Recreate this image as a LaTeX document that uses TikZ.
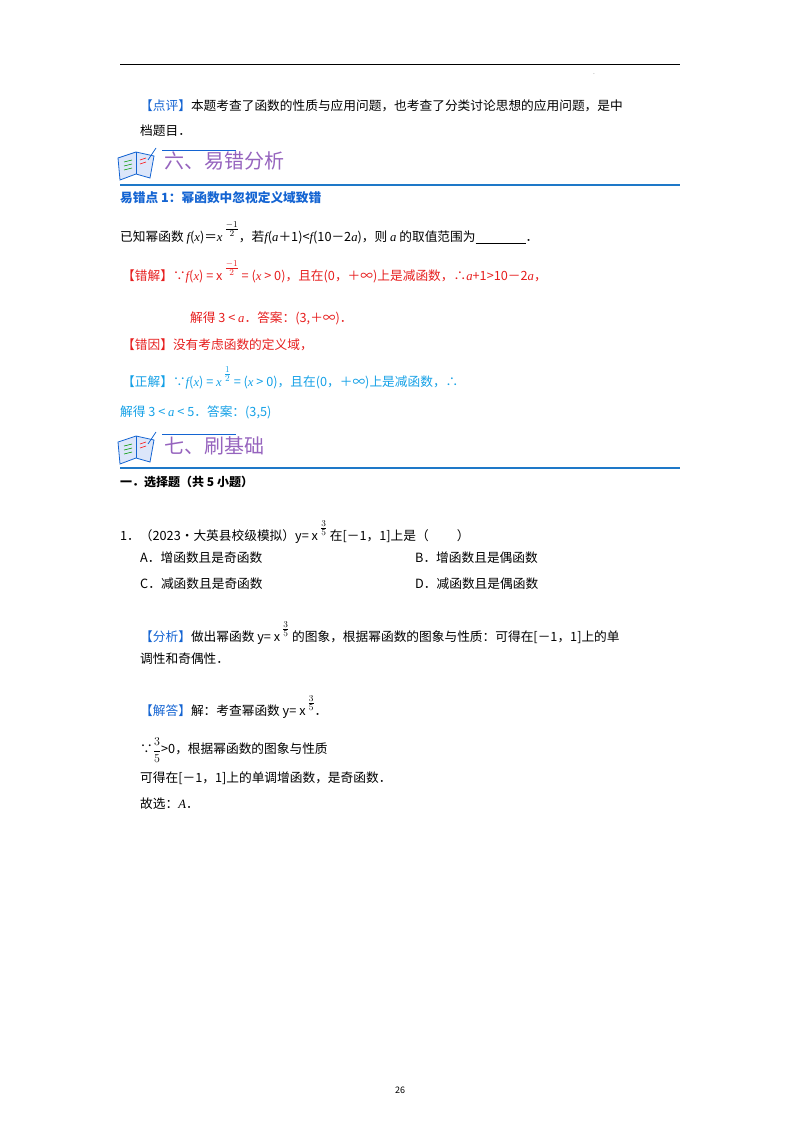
\documentclass[tikz,border=0pt]{standalone}
\usepackage{fontspec}
\setmainfont{Noto Sans CJK SC}
\newfontfamily\ser{Liberation Serif}
\newcommand{\bigexp}[2]{\raisebox{9pt}{$\frac{#1}{#2}$}}
\begin{document}
\begin{tikzpicture}[x=1pt,y=-1pt,
  t/.style={anchor=west,inner sep=0pt,font=\fontsize{12.7}{14}\selectfont},
  red/.style={t,text={rgb,255:red,230;green,30;blue,30}},
  cy/.style={t,text={rgb,255:red,20;green,160;blue,230}},
  hd/.style={anchor=west,inner sep=0pt,font=\fontsize{20}{22}\selectfont,text={rgb,255:red,150;green,100;blue,190}},
  brule/.style={draw={rgb,255:red,30;green,120;blue,200},line width=1.2pt}]
\useasboundingbox (0,0) rectangle (800,1132);
\definecolor{br}{RGB}{20,100,210}
\draw[line width=0.8pt] (120,64) -- (680,64);
\node (dot) at (594,74) {\tiny .};
\node[t] (p1) at (140,106) {{\color{br}【点评】}本题考查了函数的性质与应用问题，也考查了分类讨论思想的应用问题，是中};
\node[t] (p2) at (140,131) {档题目．};
\newcommand{\bookicon}[2]{
  \begin{scope}[shift={(#1,#2)}]
  \draw[fill={rgb,255:red,220;green,230;blue,250},draw=br,line width=0.8pt] (0,8) -- (18,2) -- (36,6) -- (32,28) -- (18,24) -- (2,30) -- cycle;
  \draw[draw=br,line width=0.8pt] (18,2) -- (18,24);
  \draw[draw=red,line width=0.6pt] (22,10) -- (28,8) (22,14) -- (28,12);
  \draw[draw=green!60!black,line width=0.6pt] (6,12) -- (14,10) (6,16) -- (14,14) (6,20) -- (14,18);
  \draw[draw=br,line width=0.8pt] (30,10) -- (38,-2);
  \end{scope}}
\bookicon{118}{150}
\draw[draw=br,line width=0.6pt] (162,150) -- (236,150);
\node[hd] (h6) at (164,161) {六、易错分析};
\draw[brule] (120,185) -- (680,185);
\node[t,text=br,font=\fontsize{12.7}{14}\selectfont\bfseries] (e1) at (120,198) {易错点 1：幂函数中忽视定义域致错};
\node[t] (q) at (120,233) {已知幂函数 {\ser\itshape f}({\ser\itshape x})＝{\ser\itshape x}\,\bigexp{-1}{2}，若{\ser\itshape f}({\ser\itshape a}＋1)<{\ser\itshape f}(10－2{\ser\itshape a})，则 {\ser\itshape a} 的取值范围为\underline{\hspace{50pt}}．};
\node[red] (cj) at (122,272) {【错解】∵{\ser\itshape f}({\ser\itshape x}) = x\,\bigexp{-1}{2} = ({\ser\itshape x} > 0)，且在(0，＋∞)上是减函数，∴{\ser\itshape a}+1>10－2{\ser\itshape a}，};
\node[red] (cj2) at (190,318) {解得 3 < {\ser\itshape a}．答案：(3,＋∞)．};
\node[red] (cy) at (122,345) {【错因】没有考虑函数的定义域，};
\node[cy] (zj) at (122,378) {【正解】∵{\ser\itshape f}({\ser\itshape x}) = {\ser\itshape x}\,\bigexp{1}{2} = ({\ser\itshape x} > 0)，且在(0，＋∞)上是减函数，∴};
\node[cy] (zj2) at (120,412) {解得 3 < {\ser\itshape a} < 5．答案：(3,5)};
\bookicon{118}{434}
\draw[draw=br,line width=0.6pt] (162,434) -- (236,434);
\node[hd] (h7) at (164,446) {七、刷基础};
\draw[brule] (120,468) -- (680,468);
\node[t,font=\fontsize{12}{14}\selectfont\bfseries] (s1) at (120,482) {一．选择题（共 5 小题）};
\node[t] (q1) at (120,532) {1．（2023•大英县校级模拟）y= x\,\bigexp{3}{5} 在[－1，1]上是（\hspace{28pt}）};
\node[t] (oa) at (140,558) {A．增函数且是奇函数};
\node[t] (ob) at (415,558) {B．增函数且是偶函数};
\node[t] (oc) at (140,584) {C．减函数且是奇函数};
\node[t] (od) at (415,584) {D．减函数且是偶函数};
\node[t] (fx) at (140,633) {{\color{br}【分析】}做出幂函数 y= x\,\bigexp{3}{5} 的图象，根据幂函数的图象与性质：可得在[－1，1]上的单};
\node[t] (fx2) at (140,659) {调性和奇偶性．};
\node[t] (jd) at (140,707) {{\color{br}【解答】}解：考查幂函数 y= x\,\bigexp{3}{5}．};
\node[t] (j2) at (140,750) {∵$\displaystyle\frac35$>0，根据幂函数的图象与性质};
\node[t] (j3) at (140,778) {可得在[－1，1]上的单调增函数，是奇函数．};
\node[t] (j4) at (140,804) {故选：{\ser\itshape A}．};
\node[font=\fontsize{9}{10}\selectfont] (pg) at (400,1090) {26};
\end{tikzpicture}
\end{document}
